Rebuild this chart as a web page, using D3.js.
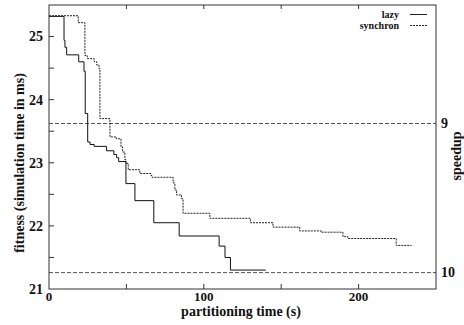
<!DOCTYPE html>
<html>
<head>
<meta charset="utf-8">
<script src="https://cdn.jsdelivr.net/npm/d3@7"></script>
<style>
  body { margin: 0; background: #fff; }
  text { font-family: "Liberation Serif", "DejaVu Serif", serif; font-weight: bold; fill: #111; }
</style>
</head>
<body>
<div id="chart"></div>
<script>
// step series: [partitioning time (s), fitness (ms)]
const lazy = [
  [0, 25.32], [9.7, 24.94], [10.3, 24.83], [11.4, 24.71], [19.2, 24.60],
  [22.6, 24.45], [23.4, 23.78], [25.0, 23.33], [26.5, 23.29], [29.2, 23.26],
  [37.2, 23.19], [41.9, 23.13], [43.7, 23.08], [45.0, 23.02], [49.7, 22.67],
  [55.5, 22.40], [67.7, 22.05], [84.1, 21.84], [109.9, 21.68], [113.7, 21.50],
  [117.2, 21.30], [140, 21.30]
];
const synchron = [
  [0, 25.33], [18.9, 25.22], [23.2, 24.70], [24.7, 24.65], [29.2, 24.60],
  [30.8, 24.55], [32.3, 24.49], [32.9, 23.70], [39.4, 23.41], [43.5, 23.38],
  [46.5, 23.25], [47.5, 23.17], [49.0, 23.05], [49.7, 22.99], [51.2, 22.89],
  [58.7, 22.83], [65.8, 22.80], [66.5, 22.77], [80.2, 22.68], [81.3, 22.57],
  [82.4, 22.49], [85.6, 22.43], [86.6, 22.20], [103.9, 22.12], [130.1, 22.05],
  [144.7, 21.98], [161.9, 21.92], [175.9, 21.90], [189.9, 21.83], [193.1, 21.80],
  [224.3, 21.69], [234.2, 21.69]
];
const xTicks = [0, 50, 100, 150, 200];
const xLabels = [0, 100, 200];
const yTicks = [21, 21.5, 22, 22.5, 23, 23.5, 24, 24.5, 25];
const yLabels = [21, 22, 23, 24, 25];
const speedups = [9, 10];
const speedupConst = 212.6; // fitness = const / speedup

const width = 464, height = 325;
const plotLeft = 49, plotRight = 436, plotTop = 5, plotBottom = 289;

const svg = d3.select('#chart').append('svg')
  .attr('width', width).attr('height', height);

const x = d3.scaleLinear().domain([0, 250]).range([plotLeft, plotRight]);
const y = d3.scaleLinear().domain([21, 25.5]).range([plotBottom, plotTop]);

// speedup reference lines
svg.append('g').selectAll('line')
  .data(speedups)
  .enter().append('line')
  .attr('x1', plotLeft).attr('x2', plotRight)
  .attr('y1', d => y(speedupConst / d)).attr('y2', d => y(speedupConst / d))
  .style('stroke', '#555').style('stroke-dasharray', '4,2');

// frame
svg.append('rect')
  .attr('x', plotLeft).attr('y', plotTop)
  .attr('width', plotRight - plotLeft).attr('height', plotBottom - plotTop)
  .style('fill', 'none').style('stroke', '#333');

// x ticks, bottom and top, pointing inward
const xt = svg.append('g');
xt.selectAll('line.b').data(xTicks.slice(1)).enter().append('line')
  .attr('class', 'b')
  .attr('x1', d => x(d)).attr('x2', d => x(d))
  .attr('y1', plotBottom).attr('y2', plotBottom - 5)
  .style('stroke', '#333');
xt.selectAll('line.t').data(xTicks.slice(1)).enter().append('line')
  .attr('class', 't')
  .attr('x1', d => x(d)).attr('x2', d => x(d))
  .attr('y1', plotTop).attr('y2', plotTop + 4)
  .style('stroke', '#333');
xt.selectAll('text').data(xLabels).enter().append('text')
  .attr('x', d => x(d)).attr('y', plotBottom + 12)
  .attr('text-anchor', 'middle')
  .style('font-size', '13px')
  .text(d => d);

// y ticks on the left
const yt = svg.append('g');
yt.selectAll('line').data(yTicks.slice(1)).enter().append('line')
  .attr('x1', plotLeft).attr('x2', plotLeft + 5)
  .attr('y1', d => y(d)).attr('y2', d => y(d))
  .style('stroke', '#333');
yt.selectAll('text').data(yLabels).enter().append('text')
  .attr('x', plotLeft - 6).attr('y', d => y(d))
  .attr('dy', '0.35em')
  .attr('text-anchor', 'end')
  .style('font-size', '14px')
  .text(d => d);

// speedup labels on the right
svg.append('g').selectAll('text').data(speedups).enter().append('text')
  .attr('x', plotRight + 5).attr('y', d => y(speedupConst / d))
  .attr('dy', '0.3em')
  .style('font-size', '14px')
  .text(d => d);

// series
const line = d3.line()
  .x(d => x(d[0]))
  .y(d => y(d[1]))
  .curve(d3.curveStepAfter);

svg.append('path').datum(synchron)
  .attr('d', line)
  .style('fill', 'none').style('stroke', '#222')
  .style('stroke-dasharray', '2,1');

svg.append('path').datum(lazy)
  .attr('d', line)
  .style('fill', 'none').style('stroke', '#111');

// legend
const legend = svg.append('g');
[['lazy', null], ['synchron', '2,1']].forEach((item, i) => {
  const ly = 14.5 + i * 11;
  legend.append('text')
    .attr('x', 399).attr('y', ly).attr('dy', '0.33em')
    .attr('text-anchor', 'end')
    .style('font-size', '10px')
    .text(item[0]);
  legend.append('line')
    .attr('x1', 410).attr('x2', 427)
    .attr('y1', ly).attr('y2', ly)
    .style('stroke', '#222')
    .style('stroke-dasharray', item[1]);
});

// axis titles
svg.append('text')
  .attr('x', 241).attr('y', 316)
  .attr('text-anchor', 'middle')
  .style('font-size', '14px')
  .text('partitioning time (s)');

svg.append('text')
  .attr('transform', 'translate(24, 163) rotate(-90)')
  .attr('text-anchor', 'middle')
  .style('font-size', '14px')
  .text('fitness (simulation time in ms)');

svg.append('text')
  .attr('transform', 'translate(461, 156) rotate(-90)')
  .attr('text-anchor', 'middle')
  .style('font-size', '14px')
  .text('speedup');
</script>
</body>
</html>
